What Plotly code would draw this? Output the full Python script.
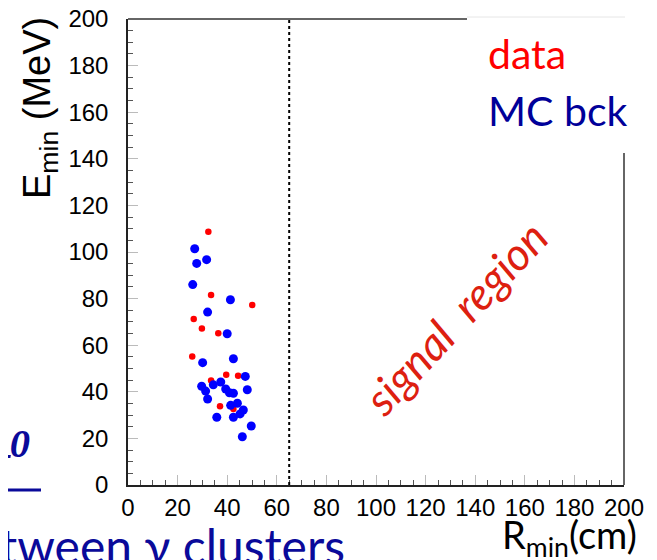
import plotly.graph_objects as go

# data (red) and MC background (blue) candidates
data_r = [32.4, 33.5, 50.1, 26.5, 29.8, 36.4, 25.9, 39.6, 44.4, 33.5, 37.1, 42.5]
data_e = [108.7, 81.5, 77.3, 71.2, 67.2, 65.1, 55.2, 47.3, 46.9, 44.8, 33.8, 32.6]

mc_r = [26.9, 31.7, 27.7, 26.1, 41.3, 32.1, 40.0, 42.5, 30.1, 47.3, 29.7, 34.4, 37.4, 31.3,
        39.4, 40.9, 42.5, 48.1, 32.1, 41.4, 44.1, 46.5, 45.2, 42.5, 35.8, 49.7, 46.1]
mc_e = [101.4, 96.7, 95.1, 86.0, 79.5, 74.2, 64.9, 54.2, 52.5, 46.6, 42.4, 43.0, 44.2, 40.3,
        41.2, 39.6, 39.4, 40.9, 36.9, 34.2, 35.1, 32.2, 30.5, 29.1, 29.1, 25.3, 20.7]

r_cut = 65
tick_vals = list(range(0, 201, 20))

# the page body has an 8px margin, so the figure is shifted by that much
OFF = 8
W, H = 657 - OFF, 560 - OFF
L, T = 128 - OFF, 19 - OFF
R, B = W - (624 - OFF), H - (485 - OFF)


def px(x, y):
    # page pixel -> paper coords
    x, y = x - OFF, y - OFF
    return (x - L) / (W - L - R), (H - B - y) / (H - T - B)


fig = go.Figure()
fig.add_trace(go.Scatter(x=data_r, y=data_e, mode="markers", name="data",
                         marker=dict(color="#ff0000", size=6.5)))
fig.add_trace(go.Scatter(x=mc_r, y=mc_e, mode="markers", name="MC bck",
                         marker=dict(color="#0000ff", size=9)))

axis_style = dict(
    range=[0, 200], tickvals=tick_vals, showgrid=False, zeroline=False,
    showline=True, linecolor="#222", linewidth=1.5, mirror=False, automargin=False,
    ticks="inside", ticklen=10, tickcolor="#bbbbbb", tickwidth=1,
    minor=dict(dtick=5, ticks="inside", ticklen=5, tickcolor="#555", tickwidth=1),
    tickfont=dict(family="Liberation Sans", size=24, color="black"),
    ticklabeloverflow="allow",
)
fig.update_xaxes(**axis_style, ticklabelstandoff=0)
fig.update_yaxes(**axis_style, ticklabelstandoff=13)

# cut line
fig.add_shape(type="line", x0=r_cut, x1=r_cut, y0=0, y1=200, xref="x", yref="y",
              line=dict(color="black", width=2, dash="dot"))

# frame pieces (partly hidden behind the slide text)
x0, _ = px(467, 0)
fig.add_shape(type="line", xref="paper", yref="paper", x0=0, x1=x0, y0=1, y1=1,
              line=dict(color="#333", width=1.5))
gx0, gy = px(467, 17)
gx1, _ = px(625, 17)
fig.add_shape(type="line", xref="paper", yref="paper", x0=gx0, x1=gx1, y0=gy, y1=gy,
              line=dict(color="#e6e6e6", width=1))
_, ry = px(0, 153)
fig.add_shape(type="line", xref="paper", yref="paper", x0=1, x1=1, y0=0, y1=ry,
              line=dict(color="#333", width=1.5))

ann = []
ax, ay = px(40, 108)
ann.append(dict(text="E<sub>min</sub> (MeV)", x=ax, y=ay, textangle=-90,
                xanchor="center", yanchor="middle",
                font=dict(family="Liberation Sans", size=38, color="black")))
ax, ay = px(500, 509)
ann.append(dict(text="R<sub>min</sub>(cm)", x=ax, y=ay, xanchor="left", yanchor="top",
                font=dict(family="Lato", size=38, color="black")))
ax, ay = px(486, 80)
ann.append(dict(text="data", x=ax, y=ay, xanchor="left", yanchor="bottom",
                font=dict(family="Lato", size=41, color="#ff0000")))
ax, ay = px(486, 137)
ann.append(dict(text="MC bck", x=ax, y=ay, xanchor="left", yanchor="bottom",
                font=dict(family="Lato", size=41, color="#000099")))
ax, ay = px(455, 318)
ann.append(dict(text="<i>signal  region</i>", x=ax, y=ay, textangle=-47,
                xanchor="center", yanchor="middle",
                font=dict(family="Lato", size=45, color="#dd2010")))
ax, ay = px(-2, 576)
ann.append(dict(text="tween γ clusters", x=ax, y=ay, xanchor="left", yanchor="bottom",
                font=dict(family="Lato", size=48, color="#0a0a9a")))
ax, ay = px(32, 496)
ann.append(dict(text="<b><i>π<sup>0</sup></i></b>", x=ax, y=ay, xanchor="right", yanchor="bottom",
                font=dict(family="Liberation Serif", size=58, color="#0a0a9a")))
for a in ann:
    a.update(xref="paper", yref="paper", showarrow=False)
fig.update_layout(annotations=ann)

ux0, uy = px(0, 490)
ux1, _ = px(41, 490)
fig.add_shape(type="line", xref="paper", yref="paper", x0=ux0, x1=ux1, y0=uy, y1=uy,
              line=dict(color="#0a0a9a", width=3))

fig.update_layout(
    width=W, height=H, autosize=False,
    margin=dict(l=L, r=R, t=T, b=B),
    paper_bgcolor="white", plot_bgcolor="white",
    showlegend=False,
)
fig.write_html("out.html")
